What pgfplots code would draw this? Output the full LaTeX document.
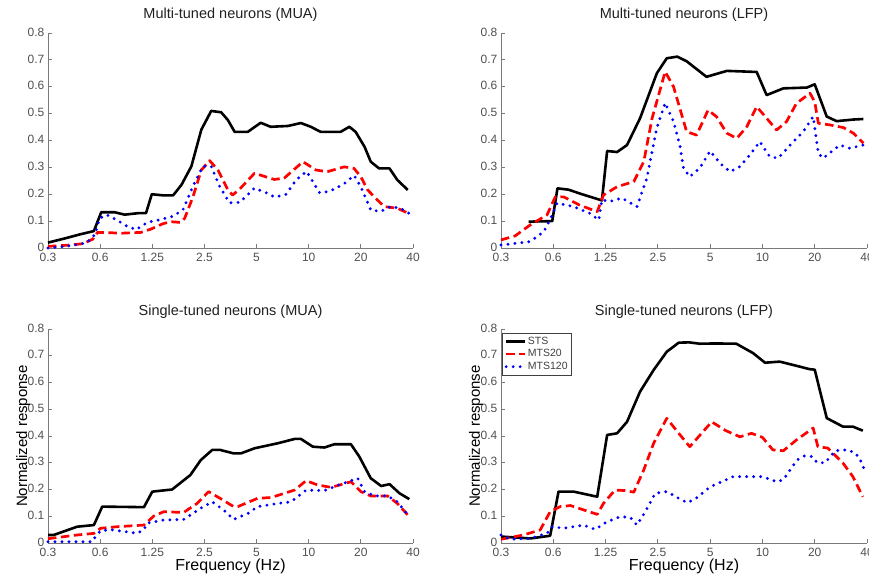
\documentclass[border=0pt]{standalone}
\usepackage{fontspec}
\setmainfont{Liberation Sans}
\usepackage{pgfplots}
\pgfplotsset{compat=1.18}

\definecolor{axisgray}{HTML}{7A7A7A}
\definecolor{tickgray}{HTML}{505050}
\definecolor{titlegray}{HTML}{202020}

% x positions are octave steps: 0 = 0.3 Hz, 1 = 0.6 Hz, ..., 7 = 40 Hz
\pgfplotsset{
  panel/.style={
    scale only axis, width=365pt, height=215pt,
    xmin=0, xmax=7, ymin=0, ymax=0.8, clip=false,
    axis x line*=bottom, axis y line*=left,
    axis line style={-, draw=axisgray, line width=0.8pt},
    tick align=inside, major tick length=4pt,
    tick style={draw=axisgray, line width=0.8pt},
    xtick={0,1,2,3,4,5,6,7},
    xticklabels={0.3,0.6,1.25,2.5,5,10,20,40},
    ytick={0,0.1,0.2,0.3,0.4,0.5,0.6,0.7,0.8},
    yticklabels={0,0.1,0.2,0.3,0.4,0.5,0.6,0.7,0.8},
    ticklabel style={font=\fontsize{12}{12}\selectfont, text=tickgray},
    xticklabel style={inner sep=0pt, yshift=-5.2pt},
    yticklabel style={inner ysep=0pt, inner xsep=3.5pt, yshift=1pt},
    title style={font=\fontsize{14.5}{15}\selectfont, text=titlegray,
      at={(axis description cs:0.5,1)}, anchor=base, yshift=8pt},
    xlabel style={font=\fontsize{16}{17}\selectfont, inner sep=0pt,
      at={(axis description cs:0.5,-0.1285)}, anchor=base},
    ylabel style={font=\fontsize{15}{16}\selectfont,
      at={(axis description cs:-0.0575,0.5)}, anchor=base, rotate=0},
    legend image code/.code={\draw[#1] (3pt,0pt) -- (22pt,0pt);},
  },
  sts/.style={black, line width=2.6pt, line join=round},
  mts20/.style={red, line width=2.7pt, line join=round, dash pattern=on 8.5pt off 4.5pt},
  mts120/.style={blue, line width=3.2pt, line cap=round, dash pattern=on 0pt off 7pt},
}

\begin{document}
\begin{tikzpicture}
\useasboundingbox (0pt,0pt) rectangle (869pt,577pt);

% ---------------- Multi-tuned neurons (MUA) ----------------
\begin{axis}[panel, at={(48pt,329pt)}, anchor=south west,
  title={Multi-tuned neurons (MUA)}]
\addplot[sts] coordinates {(0,0.02) (0.35,0.037) (0.6,0.05) (0.88,0.063) (1.02,0.133) (1.28,0.133) (1.47,0.124) (1.75,0.13) (1.88,0.13) (1.99,0.2) (2.2,0.196) (2.4,0.196) (2.56,0.235) (2.75,0.304) (2.94,0.44) (3.13,0.51) (3.32,0.505) (3.45,0.476) (3.58,0.432) (3.83,0.432) (4.08,0.466) (4.27,0.451) (4.6,0.454) (4.85,0.465) (5.04,0.451) (5.23,0.432) (5.61,0.432) (5.78,0.451) (5.9,0.432) (6.07,0.377) (6.19,0.321) (6.35,0.296) (6.55,0.296) (6.7,0.253) (6.9,0.216)};
\addplot[mts20] coordinates {(0,0.006) (0.35,0.01) (0.67,0.016) (0.86,0.033) (0.95,0.058) (1.05,0.058) (1.4,0.055) (1.78,0.058) (1.97,0.07) (2.2,0.09) (2.35,0.098) (2.54,0.095) (2.62,0.11) (2.78,0.19) (2.94,0.29) (3.1,0.325) (3.26,0.29) (3.45,0.216) (3.54,0.197) (3.68,0.22) (3.96,0.278) (4.34,0.255) (4.53,0.26) (4.89,0.321) (5.14,0.29) (5.36,0.284) (5.68,0.302) (5.87,0.296) (6.0,0.265) (6.13,0.216) (6.32,0.178) (6.45,0.154) (6.7,0.148) (6.9,0.13)};
\addplot[mts120] coordinates {(0,0) (0.35,0.006) (0.74,0.019) (0.9,0.05) (0.99,0.11) (1.12,0.124) (1.31,0.105) (1.5,0.083) (1.69,0.068) (1.82,0.085) (1.92,0.096) (2.14,0.105) (2.4,0.118) (2.59,0.143) (2.78,0.23) (2.97,0.304) (3.13,0.304) (3.29,0.23) (3.48,0.168) (3.68,0.17) (3.96,0.223) (4.19,0.205) (4.35,0.189) (4.57,0.2) (4.76,0.254) (4.96,0.285) (5.21,0.205) (5.4,0.211) (5.66,0.236) (5.87,0.27) (6.0,0.228) (6.19,0.141) (6.38,0.136) (6.57,0.154) (6.76,0.148) (6.94,0.127)};
\end{axis}

% ---------------- Multi-tuned neurons (LFP) ----------------
\begin{axis}[panel, width=366pt, at={(501pt,329pt)}, anchor=south west,
  title={Multi-tuned neurons (LFP)}]
\addplot[sts] coordinates {(0.53,0.098) (0.98,0.1) (1.08,0.222) (1.29,0.217) (1.55,0.2) (1.93,0.177) (2.03,0.361) (2.22,0.357) (2.41,0.383) (2.66,0.483) (2.98,0.65) (3.17,0.706) (3.37,0.712) (3.55,0.695) (3.68,0.675) (3.93,0.637) (4.32,0.659) (4.89,0.655) (5.08,0.569) (5.4,0.594) (5.85,0.597) (6.0,0.609) (6.23,0.489) (6.42,0.472) (6.74,0.478) (6.93,0.48)};
\addplot[mts20] coordinates {(0,0.03) (0.27,0.045) (0.56,0.086) (0.88,0.123) (1.04,0.191) (1.2,0.19) (1.5,0.16) (1.84,0.135) (1.96,0.197) (2.22,0.228) (2.54,0.247) (2.73,0.321) (2.89,0.483) (3.14,0.656) (3.3,0.6) (3.42,0.52) (3.55,0.433) (3.74,0.42) (3.96,0.513) (4.12,0.489) (4.32,0.427) (4.51,0.408) (4.7,0.451) (4.89,0.526) (5.08,0.483) (5.27,0.439) (5.46,0.47) (5.65,0.538) (5.91,0.576) (6.0,0.544) (6.07,0.464) (6.29,0.458) (6.55,0.448) (6.74,0.427) (6.93,0.39)};
\addplot[mts120] coordinates {(0,0.011) (0.56,0.024) (0.82,0.061) (0.98,0.123) (1.07,0.167) (1.39,0.154) (1.7,0.129) (1.87,0.104) (1.93,0.179) (2.08,0.173) (2.31,0.186) (2.6,0.154) (2.79,0.26) (2.98,0.447) (3.14,0.54) (3.3,0.47) (3.42,0.383) (3.49,0.297) (3.61,0.265) (3.8,0.297) (4.0,0.361) (4.19,0.315) (4.38,0.284) (4.57,0.303) (4.76,0.346) (4.95,0.396) (5.14,0.34) (5.3,0.334) (5.53,0.383) (5.78,0.433) (5.97,0.489) (6.07,0.352) (6.16,0.334) (6.48,0.383) (6.67,0.371) (6.93,0.383)};
\end{axis}

% ---------------- Single-tuned neurons (MUA) ----------------
\begin{axis}[panel, height=214pt, at={(48pt,34pt)}, anchor=south west,
  title={Single-tuned neurons (MUA)},
  xlabel={Frequency (Hz)}, ylabel={Normalized response}]
\addplot[sts] coordinates {(0,0.03) (0.11,0.03) (0.56,0.061) (0.88,0.067) (1.04,0.136) (1.84,0.134) (2.0,0.192) (2.38,0.2) (2.73,0.254) (2.93,0.31) (3.15,0.348) (3.3,0.348) (3.56,0.335) (3.7,0.335) (3.96,0.354) (4.41,0.373) (4.73,0.389) (4.85,0.389) (5.08,0.36) (5.3,0.357) (5.49,0.369) (5.81,0.369) (5.97,0.323) (6.19,0.242) (6.39,0.213) (6.55,0.22) (6.74,0.186) (6.93,0.164)};
\addplot[mts20] coordinates {(0,0.016) (0.56,0.03) (0.88,0.036) (1.01,0.055) (1.33,0.061) (1.84,0.067) (2.03,0.101) (2.22,0.117) (2.6,0.114) (2.86,0.148) (3.08,0.192) (3.3,0.167) (3.56,0.136) (3.64,0.136) (4.02,0.167) (4.28,0.17) (4.73,0.198) (4.95,0.233) (5.17,0.217) (5.43,0.208) (5.81,0.229) (6.0,0.192) (6.19,0.176) (6.51,0.176) (6.7,0.148) (6.93,0.098)};
\addplot[mts120] coordinates {(0,0.005) (0.85,0.005) (0.91,0.024) (1.01,0.046) (1.2,0.05) (1.71,0.036) (1.84,0.05) (1.9,0.074) (2.22,0.086) (2.6,0.088) (2.93,0.13) (3.15,0.154) (3.37,0.123) (3.56,0.088) (3.83,0.11) (4.02,0.136) (4.41,0.148) (4.66,0.154) (4.95,0.198) (5.3,0.196) (5.62,0.22) (5.94,0.242) (6.07,0.192) (6.26,0.176) (6.51,0.176) (6.7,0.154) (6.9,0.105)};
\end{axis}

% ---------------- Single-tuned neurons (LFP) ----------------
\begin{axis}[panel, width=366pt, height=214pt, at={(501pt,34pt)}, anchor=south west,
  title={Single-tuned neurons (LFP)},
  xlabel={Frequency (Hz)}, ylabel={Normalized response},
  legend style={at={(axis description cs:0.002,0.982)}, anchor=north west,
    draw=black!75, line width=0.6pt, fill=white,
    font=\fontsize{10.5}{11}\selectfont, text=black!75,
    inner sep=2.5pt, row sep=1.5pt, nodes={inner sep=1.2pt},
    cells={anchor=west}}]
\addplot[sts] coordinates {(0,0.024) (0.56,0.017) (0.94,0.027) (1.1,0.192) (1.39,0.192) (1.84,0.173) (2.03,0.404) (2.22,0.41) (2.41,0.453) (2.66,0.566) (2.92,0.647) (3.17,0.715) (3.4,0.749) (3.6,0.75) (3.8,0.745) (4.1,0.746) (4.5,0.745) (4.82,0.71) (5.05,0.674) (5.33,0.678) (5.6,0.665) (5.9,0.65) (6.0,0.648) (6.23,0.467) (6.54,0.435) (6.73,0.435) (6.92,0.42)};
\addlegendentry{STS}
\addplot[mts20] coordinates {(0,0.014) (0.43,0.03) (0.75,0.049) (0.94,0.117) (1.13,0.136) (1.33,0.14) (1.84,0.107) (1.96,0.148) (2.18,0.198) (2.37,0.196) (2.54,0.19) (2.73,0.273) (2.92,0.373) (3.17,0.466) (3.4,0.41) (3.61,0.36) (4.03,0.453) (4.3,0.42) (4.57,0.397) (4.79,0.41) (5.0,0.395) (5.2,0.348) (5.4,0.345) (5.65,0.385) (5.97,0.43) (6.06,0.36) (6.25,0.355) (6.54,0.299) (6.73,0.248) (6.92,0.173)};
\addlegendentry{MTS20}
\addplot[mts120] coordinates {(0,0.03) (0.18,0.014) (0.56,0.017) (0.88,0.036) (0.98,0.061) (1.2,0.055) (1.58,0.067) (1.8,0.051) (2.03,0.08) (2.28,0.098) (2.47,0.096) (2.6,0.067) (2.76,0.117) (2.95,0.186) (3.17,0.192) (3.4,0.167) (3.56,0.151) (3.71,0.164) (4.0,0.21) (4.44,0.248) (5.0,0.248) (5.28,0.229) (5.4,0.237) (5.66,0.31) (5.8,0.325) (5.95,0.323) (6.05,0.3) (6.2,0.3) (6.39,0.345) (6.6,0.348) (6.75,0.34) (6.85,0.32) (6.96,0.27)};
\addlegendentry{MTS120}
\end{axis}
\end{tikzpicture}
\end{document}
